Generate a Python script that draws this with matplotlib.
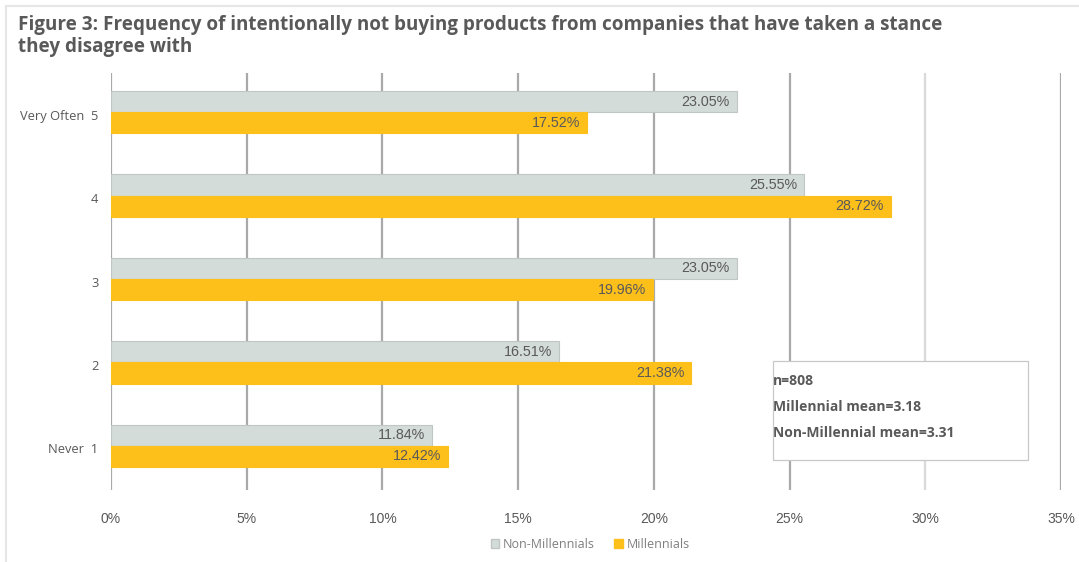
import matplotlib

matplotlib.use("Agg")
import matplotlib.pyplot as plt
import numpy as np
from matplotlib.patches import Rectangle
from matplotlib.lines import Line2D

# frequency scale, bottom (1) to top (5)
categories = ["Never  1", "2", "3", "4", "Very Often  5"]
non_millennials = [11.84, 16.51, 23.05, 25.55, 23.05]
millennials = [12.42, 21.38, 19.96, 28.72, 17.52]
xticks = [0, 5, 10, 15, 20, 25, 30, 35]
notes = ["n=808", "Millennial mean=3.18", "Non-Millennial mean=3.31"]

GREY = "#D3DCD9"
GOLD = "#FDBF1A"
TXT = "#595959"

fig = plt.figure(figsize=(10.79, 5.62), dpi=100)
ax = fig.add_axes([0.1029, 0.1281, 0.8804, 0.742])

y = np.arange(len(categories)) + 0.03
h = 0.255
ax.barh(y + h / 2, non_millennials, h, color=GREY, edgecolor="#BFC6C3",
        linewidth=0.8, zorder=3)
ax.barh(y - h / 2, millennials, h, color=GOLD, edgecolor=GOLD,
        linewidth=0.8, zorder=3)

for yi, v in zip(y, non_millennials):
    ax.text(v - 0.25, yi + h / 2, f"{v:.2f}%", ha="right", va="center",
            fontsize=10.3, color=TXT, family="Liberation Sans", zorder=4)
for yi, v in zip(y, millennials):
    ax.text(v - 0.25, yi - h / 2, f"{v:.2f}%", ha="right", va="center",
            fontsize=10.3, color=TXT, family="Liberation Sans", zorder=4)

ax.set_xlim(0, 35)
ax.set_ylim(-0.5, 4.5)
ax.set_xticks(xticks)
ax.set_xticklabels([f"{t}%" for t in xticks], family="Liberation Sans",
                   fontsize=10, color=TXT)
ax.set_yticks(np.arange(len(categories)))
ax.set_yticklabels(categories, family="Open Sans", fontsize=9.3, color=TXT)
ax.tick_params(length=0)
ax.tick_params(axis="x", pad=16)
ax.tick_params(axis="y", pad=9)
for s in ax.spines.values():
    s.set_visible(False)

# vertical gridlines; the 30% one is drawn lighter
for t in xticks:
    c = "#DADADA" if t == 30 else "#A9A9A9"
    ax.axvline(t, color=c, linewidth=1.6, zorder=1)

# annotation box
box = Rectangle((773 / 1079, 1 - 460 / 562), 255 / 1079, 99 / 562,
                transform=fig.transFigure, facecolor="white",
                edgecolor="#C8C8C8", linewidth=0.9, zorder=5)
fig.patches.append(box)
for i, line in enumerate(notes):
    fig.text(773 / 1079, 1 - (381 + 26 * i) / 562, line, ha="left",
             va="center", fontsize=10, fontweight="bold", color=TXT,
             family="Open Sans", zorder=6)

fig.text(18 / 1079, 1 - 36 / 562,
         "Figure 3: Frequency of intentionally not buying products from "
         "companies that have taken a stance\nthey disagree with",
         ha="left", va="center", fontsize=13.6, fontweight="bold",
         color=TXT, family="Open Sans", linespacing=1.15)

# page frame lines on top and left
fig.add_artist(Line2D([6 / 1079, 1], [1 - 6 / 562] * 2,
                      transform=fig.transFigure, color="#E6E6E6", lw=1.5))
fig.add_artist(Line2D([6 / 1079] * 2, [0, 1 - 6 / 562],
                      transform=fig.transFigure, color="#E6E6E6", lw=1.5))

handles = [Rectangle((0, 0), 1, 1, facecolor=GREY, edgecolor="#BFC6C3"),
           Rectangle((0, 0), 1, 1, facecolor=GOLD, edgecolor=GOLD)]
fig.legend(handles, ["Non-Millennials", "Millennials"], loc="center",
           bbox_to_anchor=(590 / 1079, 1 - 544 / 562), ncol=2, frameon=False,
           prop={"family": "Open Sans", "size": 9.0}, labelcolor="#7F7F7F",
           handlelength=0.7, handleheight=0.7, handletextpad=0.3,
           columnspacing=1.5)

fig.savefig("out.png", dpi=100)
